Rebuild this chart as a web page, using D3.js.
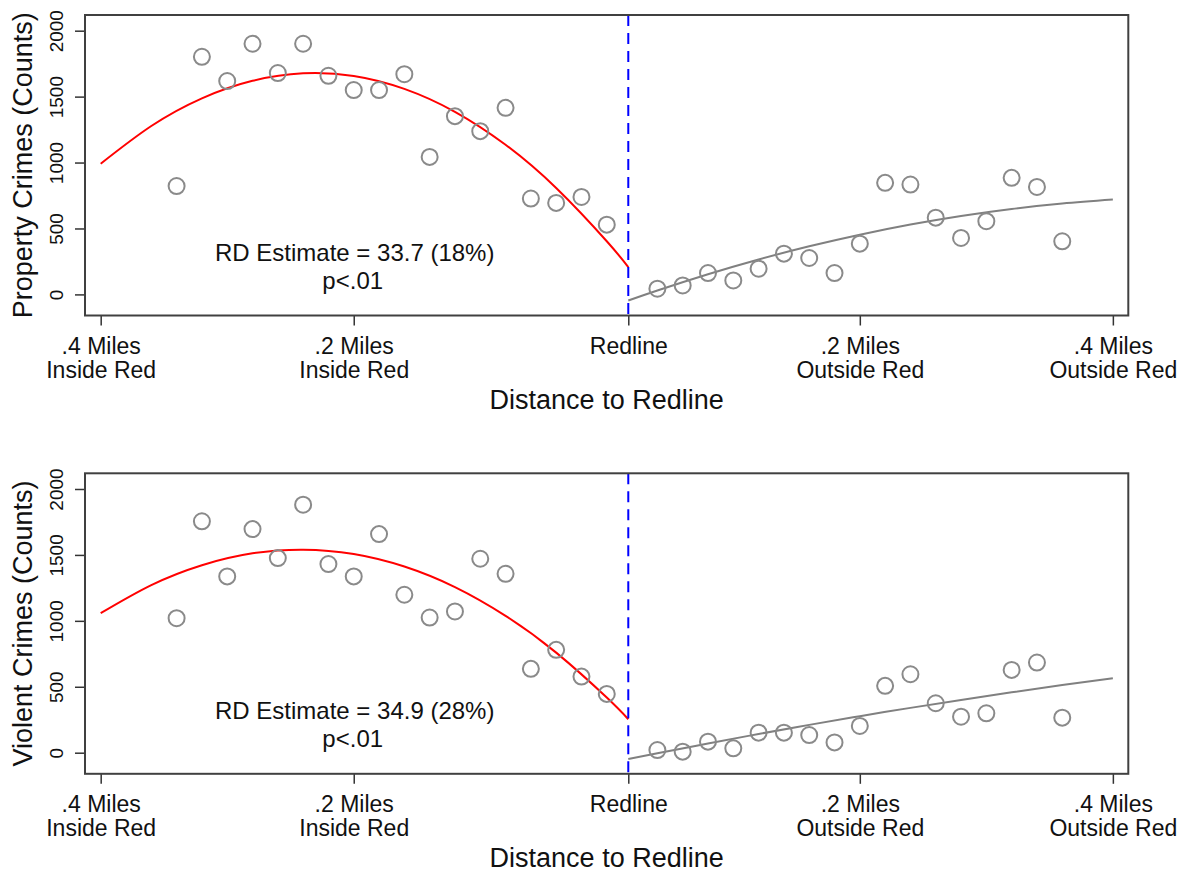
<!DOCTYPE html>
<html>
<head>
<meta charset="utf-8">
<script src="https://cdn.jsdelivr.net/npm/d3@7"></script>
<style>
  body { margin: 0; background: #fff; }
  svg { display: block; font-family: Arial, "Liberation Sans", sans-serif; }
</style>
</head>
<body>
<svg id="chart" width="1193" height="873"></svg>
<script>
// bins of distance to the redline (negative = inside red area)
var binsInside = [-18, -17, -16, -15, -14, -13, -12, -11, -10, -9, -8, -7, -6, -5, -4, -3, -2, -1];
var binsOutside = [1, 2, 3, 4, 5, 6, 7, 8, 9, 10, 11, 12, 13, 14, 15, 16, 17];

// binned means
var propertyInside = [822, 1802, 1618, 1901, 1679, 1901, 1658, 1550, 1550, 1670, 1043, 1352, 1238, 1415, 727, 694, 739, 529];
var propertyOutside = [43, 68, 162, 106, 195, 309, 276, 162, 385, 846, 833, 582, 428, 555, 884, 815, 403];
var violentInside = [1020, 1755, 1337, 1696, 1476, 1881, 1431, 1337, 1658, 1198, 1025, 1071, 1471, 1357, 636, 780, 577, 446];
var violentOutside = [20, 8, 84, 33, 152, 152, 134, 78, 203, 507, 595, 375, 273, 299, 628, 684, 266];

// fitted polynomial
var fitInsideX = [-21, -19, -17, -15, -13, -11, -9, -7, -5, -3, -1, -0.15];
var fitOutsideX = [-0.15, 1, 3, 5, 7, 9, 11, 13, 15, 17, 19];
var propertyFitInside = [991, 1277, 1487, 1620, 1677, 1657, 1559, 1385, 1135, 807, 403, 207];
var propertyFitOutside = [-46, 30, 153, 265, 365, 453, 530, 595, 648, 689, 719];
var violentFitInside = [1058, 1271, 1422, 1512, 1540, 1507, 1412, 1256, 1038, 759, 418, 254];
var violentFitOutside = [-48, -4, 70, 142, 211, 277, 340, 400, 458, 513, 565];

// axis ticks
var redline = -0.15;
var xTickValues = [-21, -11, -0.15, 9, 19];
var xTickLabels = [[".4 Miles", "Inside Red"], [".2 Miles", "Inside Red"], ["Redline"], [".2 Miles", "Outside Red"], [".4 Miles", "Outside Red"]];
var yTickValues = [0, 500, 1000, 1500, 2000];

var panels = [
    { title: "Property Crimes (Counts)", inside: propertyInside, outside: propertyOutside,
      fitIn: propertyFitInside, fitOut: propertyFitOutside, note: "RD Estimate = 33.7 (18%)", p: "p<.01" },
    { title: "Violent Crimes (Counts)", inside: violentInside, outside: violentOutside,
      fitIn: violentFitInside, fitOut: violentFitOutside, note: "RD Estimate = 34.9 (28%)", p: "p<.01" }
];

var svg = d3.select("#chart");
svg.append("rect").attr("width", 1193).attr("height", 873).attr("fill", "#fff");

var left = 85, right = 1128.3, plotH = 300.5;
var panelTops = [15, 473.3];

var xScale = d3.scaleLinear()
    .domain([-21.62, 19.61])
    .range([left, right]);

panels.forEach(function (p, k) {
    var top = panelTops[k];
    var bottom = top + plotH;

    var yScale = d3.scaleLinear()
        .domain([-160, 2119])
        .range([bottom, top]);

    var g = svg.append("g");

    // y axis
    var yAxis = g.append("g")
        .attr("transform", "translate(" + left + ",0)")
        .call(d3.axisLeft(yScale).tickValues(yTickValues).tickFormat(d3.format("d")).tickSize(10).tickSizeOuter(0));
    yAxis.select(".domain").remove();
    yAxis.selectAll("line").attr("stroke", "#333").attr("stroke-width", 1.5);
    yAxis.selectAll("text")
        .attr("transform", "rotate(-90)")
        .attr("x", 0)
        .attr("y", -22)
        .attr("dy", 0)
        .attr("text-anchor", "middle")
        .attr("font-size", "19px")
        .attr("font-family", "Arial, 'Liberation Sans', sans-serif")
        .attr("fill", "#111");

    g.append("text")
        .attr("transform", "translate(32," + (top + plotH / 2) + ") rotate(-90)")
        .attr("text-anchor", "middle")
        .attr("font-size", "27px")
        .attr("fill", "#111")
        .text(p.title);

    // x axis
    var xAxis = g.append("g")
        .attr("transform", "translate(0," + bottom + ")")
        .call(d3.axisBottom(xScale).tickValues(xTickValues).tickSize(10).tickSizeOuter(0));
    xAxis.select(".domain").remove();
    xAxis.selectAll("line").attr("stroke", "#333").attr("stroke-width", 1.5);
    xAxis.selectAll("text").remove();
    xAxis.selectAll(".tick").each(function (d, i) {
        var t = d3.select(this).append("text")
            .attr("text-anchor", "middle")
            .attr("font-size", "23px")
            .attr("font-family", "Arial, 'Liberation Sans', sans-serif")
            .attr("fill", "#111");
        xTickLabels[i].forEach(function (line, j) {
            t.append("tspan").attr("x", 0).attr("y", 38.5 + j * 24).text(line);
        });
    });

    g.append("text")
        .attr("x", (left + right) / 2)
        .attr("y", bottom + 93)
        .attr("text-anchor", "middle")
        .attr("font-size", "27px")
        .attr("fill", "#111")
        .text("Distance to Redline");

    // fitted curves
    var line = d3.line()
        .x(function (d) { return xScale(d[0]); })
        .y(function (d) { return yScale(d[1]); })
        .curve(d3.curveNatural);

    g.append("path")
        .datum(d3.zip(fitInsideX, p.fitIn))
        .attr("d", line)
        .attr("fill", "none")
        .attr("stroke", "#ff0000")
        .attr("stroke-width", 2);

    g.append("path")
        .datum(d3.zip(fitOutsideX, p.fitOut))
        .attr("d", line)
        .attr("fill", "none")
        .attr("stroke", "#808080")
        .attr("stroke-width", 2);

    // binned scatter
    var pts = d3.zip(binsInside, p.inside).concat(d3.zip(binsOutside, p.outside));
    g.selectAll("circle.bin")
        .data(pts)
        .enter()
        .append("circle")
        .attr("class", "bin")
        .attr("cx", function (d) { return xScale(d[0]); })
        .attr("cy", function (d) { return yScale(d[1]); })
        .attr("r", 8)
        .attr("fill", "none")
        .attr("stroke", "#8a8a8a")
        .attr("stroke-width", 2);

    // redline
    g.append("line")
        .attr("x1", xScale(redline))
        .attr("x2", xScale(redline))
        .attr("y1", top)
        .attr("y2", bottom)
        .attr("stroke", "#0000ff")
        .attr("stroke-width", 2)
        .attr("stroke-dasharray", "11,7");

    // frame
    g.append("rect")
        .attr("x", left)
        .attr("y", top)
        .attr("width", right - left)
        .attr("height", plotH)
        .attr("fill", "none")
        .attr("stroke", "#404040")
        .attr("stroke-width", 2);

    // estimate note, two lines
    var noteX = xScale(-11);
    g.append("text")
        .attr("x", noteX + 1)
        .attr("y", top + 246)
        .attr("text-anchor", "middle")
        .attr("font-size", "24px")
        .attr("fill", "#111")
        .text(p.note);
    g.append("text")
        .attr("x", noteX - 1)
        .attr("y", top + 274)
        .attr("text-anchor", "middle")
        .attr("font-size", "24px")
        .attr("fill", "#111")
        .text(p.p);
});
</script>
</body>
</html>
